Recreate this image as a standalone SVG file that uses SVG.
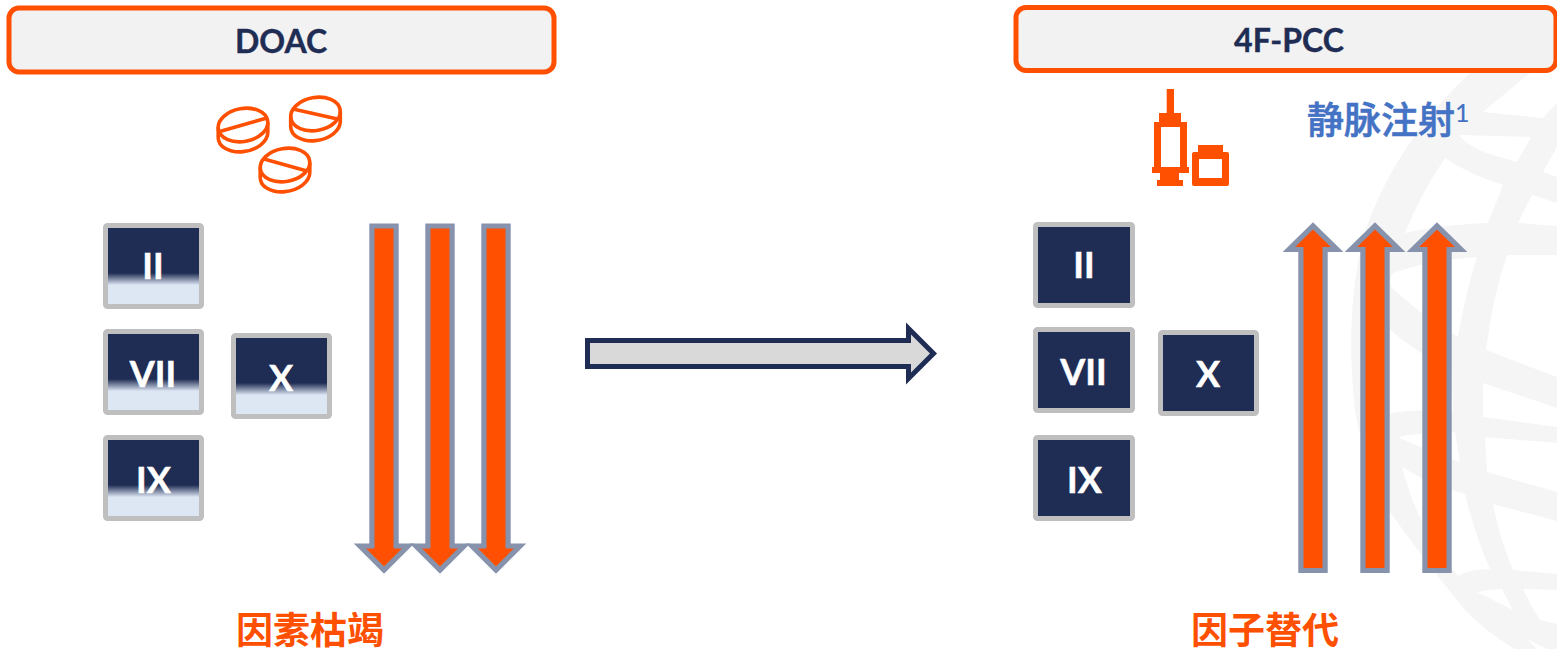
<svg xmlns="http://www.w3.org/2000/svg" width="1557" height="649" viewBox="0 0 1557 649">
<style>
.hdr{fill:#f2f2f2;stroke:#fe5000;stroke-width:5}
.ht{font:700 32px Lato,"Noto Sans",sans-serif;fill:#1f2d54;stroke:#1f2d54;stroke-width:.4;text-anchor:middle}
.n{stroke:#bfbfbf;stroke-width:5;stroke-linejoin:round}
.dark{fill:#1f2d54}
.fade{fill:url(#fade)}
.nt{font:700 36px Lato,"Noto Sans",sans-serif;fill:#fff;stroke:#fff;stroke-width:.5;text-anchor:middle}
.arr{fill:#fe5000;stroke:#8792ac;stroke-width:5.2;stroke-linejoin:miter;stroke-miterlimit:6}
.pill{fill:none;stroke:#fe5000;stroke-width:3.6}
.or{fill:#fe5000}
.cap{font:700 37px "Noto Sans CJK SC","Noto Sans",sans-serif;fill:#fe5000;text-anchor:middle}
.iv{font:500 37px "Noto Sans CJK SC","Noto Sans",sans-serif;fill:#4472c4;stroke:#4472c4;stroke-width:.6}
</style>
<defs>
<linearGradient id="fade" x1="0" y1="0" x2="0" y2="1">
<stop offset="0.586" stop-color="#1f2d54"/>
<stop offset="0.735" stop-color="#dde6f3"/>
</linearGradient>
<g id="pillShape" class="pill">
<ellipse rx="25" ry="16.5" transform="rotate(-10)"/>
<path d="M-24.8,2.4v10A25,16.5 -10 0 0 24.8,7.6v-10"/>
</g>
<polygon id="down" points="-12.1,226 12.1,226 12.1,546 24,546 0,570 -24,546 -12.1,546"/>
<polygon id="up" points="-12.1,570.5 12.1,570.5 12.1,249.5 24,249.5 0,226 -24,249.5 -12.1,249.5"/>
</defs>

<path id="globe" fill="#f5f5f5" fill-rule="evenodd" d="M1470,73C1425,115 1390,165 1368,223C1352,270 1347,340 1355,410C1362,450 1375,490 1390,512C1410,540 1440,580 1467,612C1480,625 1495,637 1515,649H1557V73Z
M1483,112L1530,73H1557V103L1543,118Z
M1458,135L1531,137 1517,162 1487,153Q1470,147 1458,135Z
M1445,158Q1470,175 1503,185L1488,223Q1440,225 1405,233Q1420,195 1445,158Z
M1543,172L1557,147V177Z
M1532,195L1557,203V226L1518,223Z
M1393,273Q1430,260 1477,257Q1465,295 1458,337Q1430,322 1392,288Q1388,280 1393,273Z
M1390,330Q1420,355 1452,370L1453,413Q1420,408 1390,413Z
M1398,437Q1425,432 1455,432L1460,462Q1425,450 1398,437Z
M1402,467Q1430,485 1465,494Q1475,535 1490,569Q1470,569 1458,576L1437,549Q1415,515 1402,467Z
M1507,255H1557V377L1486,350Q1492,300 1507,255Z
M1483,383L1557,408V427L1483,417Z
M1485,437L1557,443V492L1487,472Z
M1493,504L1557,521V574L1513,570Q1500,540 1493,504Z
M1477,592Q1490,589 1502,589L1513,610Z
M1523,589L1557,590V624L1540,620Q1530,605 1523,589Z
M1527,639L1547,649H1537Z"/>

<g id="header-doac">
<rect class="hdr" x="9" y="8" width="545" height="64" rx="10"/>
<text class="ht" x="281" y="53">DOAC</text>
</g>
<g id="header-pcc">
<rect class="hdr" x="1016" y="7.5" width="540" height="63" rx="10"/>
<text class="ht" x="1289" y="52">4F-PCC</text>
</g>

<g id="pills">
<use href="#pillShape" x="243" y="125"/>
<use href="#pillShape" x="315.5" y="114"/>
<use href="#pillShape" x="285" y="165"/>
<path class="pill" d="M218,132L267,118M293,109L337.5,119M264,159L307,171"/>
</g>

<g id="syringe" class="or">
<path fill-rule="evenodd" d="M1166.7,89H1174V113H1181V122H1187V167H1189V173H1179V180H1183V186H1157V180H1160V173H1152V167H1154V122H1159V113H1166.7ZM1161,127V167H1180V127Z"/>
<path fill-rule="evenodd" d="M1198,145H1223V152H1227Q1229,152 1229,154V184Q1229,186 1227,186H1194Q1192,186 1192,184V154Q1192,152 1194,152H1198ZM1199,159V178H1222V159Z"/>
</g>
<text id="iv-label" class="iv" x="1307" y="134">静脉注射<tspan font-size="25" dy="-12" font-family="Lato,sans-serif" stroke="none">1</tspan></text>

<g id="node-left-II"><rect class="n fade" x="105.5" y="225.5" width="96" height="81" rx="2"/><text class="nt" x="153" y="279">II</text></g>
<g id="node-left-VII"><rect class="n fade" x="105.5" y="331.5" width="96" height="81" rx="2"/><text class="nt" x="153" y="387">VII</text></g>
<g id="node-left-IX"><rect class="n fade" x="105.5" y="437.5" width="96" height="81" rx="2"/><text class="nt" x="153.5" y="493">IX</text></g>
<g id="node-left-X"><rect class="n fade" x="233.5" y="335.5" width="96" height="81" rx="2"/><text class="nt" x="281" y="391">X</text></g>

<g id="node-right-II"><rect class="n dark" x="1035.5" y="224.5" width="97" height="81" rx="2"/><text class="nt" x="1084" y="278">II</text></g>
<g id="node-right-VII"><rect class="n dark" x="1035.5" y="329.5" width="97" height="81" rx="2"/><text class="nt" x="1083.5" y="385">VII</text></g>
<g id="node-right-IX"><rect class="n dark" x="1035.5" y="437.5" width="97" height="81" rx="2"/><text class="nt" x="1084.5" y="493">IX</text></g>
<g id="node-right-X"><rect class="n dark" x="1160.5" y="332.5" width="96" height="81" rx="2"/><text class="nt" x="1208" y="387">X</text></g>

<g id="connectors">
<use href="#down" class="arr" x="384"/>
<use href="#down" class="arr" x="440"/>
<use href="#down" class="arr" x="496"/>
<use href="#up" class="arr" x="1313"/>
<use href="#up" class="arr" x="1375"/>
<use href="#up" class="arr" x="1437"/>
<polygon points="587.5,340.5 908.5,340.5 908.5,328.5 933.5,353.5 908.5,378.5 908.5,366.5 587.5,366.5" fill="#d9d9d9" stroke="#1f2d54" stroke-width="5"/>
</g>

<text id="caption-left" class="cap" x="310" y="644">因素枯竭</text>
<text id="caption-right" class="cap" x="1265" y="644">因子替代</text>
</svg>
